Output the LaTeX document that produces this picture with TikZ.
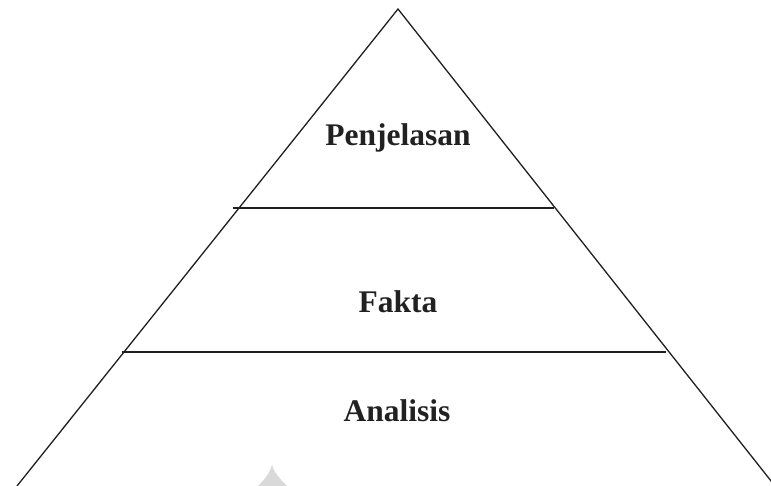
\documentclass[tikz,border=0pt]{standalone}
\usepackage{fontspec}
\setmainfont{Liberation Serif}
\begin{document}
\begin{tikzpicture}[x=1pt,y=-1pt,
  edge/.style={line width=1.3pt,color=black!88},
  lbl/.style={anchor=base,inner sep=0pt,font=\fontsize{31.5}{36}\selectfont\bfseries,text=black!87}]
\useasboundingbox (0,0) rectangle (771,486);
\begin{scope}
\clip (0,0) rectangle (771,486);
\coordinate (apex) at (398,9);
\coordinate (bl) at (17,486);
\coordinate (br) at (775,486);
\coordinate (l1a) at (233,208);
\coordinate (l1b) at (554,208);
\coordinate (l2a) at (122,352);
\coordinate (l2b) at (666,352);
\fill[black!15] (258,486) .. controls (266,478) and (270,472) .. (272,465) .. controls (274,472) and (279,478) .. (287,486) -- cycle;
\draw[edge] (bl) -- (apex) -- (br);
\draw[edge] (l1a) -- (l1b);
\draw[edge] (l2a) -- (l2b);
\end{scope}
\node[lbl] (p) at (398,146) {Penjelasan};
\node[lbl] (f) at (398,312.5) {Fakta};
\node[lbl] (a) at (397,421.5) {Analisis};
\end{tikzpicture}
\end{document}
